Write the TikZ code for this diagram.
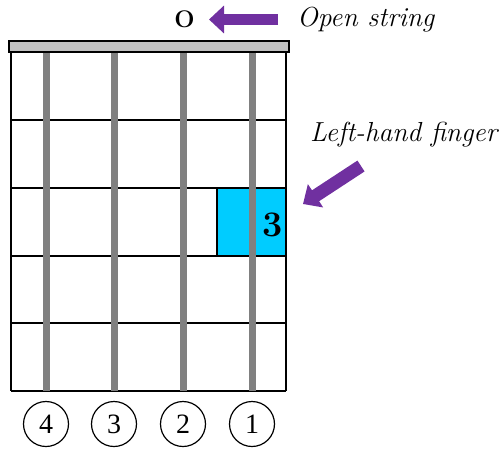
\documentclass[tikz,border=0pt]{standalone}
\usepackage{fontspec}
\newfontfamily\circlefont{Liberation Serif}
\usepackage{xcolor}
\usetikzlibrary{arrows.meta, positioning, calc}

\definecolor{nutgray}{HTML}{C0C0C0}
\definecolor{stringgray}{HTML}{808080}
\definecolor{fingerblue}{HTML}{00CCFF}
\definecolor{arrowpurple}{HTML}{7030A0}

\begin{document}
\begin{tikzpicture}[x=1pt, y=-1pt,
        fret/.style={line width=2pt},
        guitarstring/.style={line width=7pt, stringgray},
        pointer/.style={line width=12pt, arrowpurple, -{Triangle[length=15pt, width=27pt]}},
        annot/.style={inner sep=0pt, font=\fontsize{27.5}{32}\selectfont\itshape},
        stringno/.style={circle, draw, line width=1.2pt, minimum size=45pt, inner sep=0pt,
            font=\circlefont\fontsize{28}{32}\selectfont}]

        \useasboundingbox (0,0) rectangle (504,448);

        % Frets and edges
        \foreach \y in {120, 188, 256, 323, 391} {
            \draw[fret] (11,\y) -- (286,\y);
        }
        \draw[fret] (11,52) -- (11,391);
        \draw[fret] (286,52) -- (286,391);

        % Fingered fret
        \draw[fret, fill=fingerblue] (217,188) rectangle (286,256);

        % Strings with their numbers
        \foreach \x/\n in {46/4, 114/3, 183/2, 252/1} {
            \draw[guitarstring] (\x,52) -- (\x,391);
            \node[stringno] (num\n) at (\x,424) {\n};
        }

        % Nut
        \draw[line width=1.5pt, fill=nutgray] (9,41) rectangle (289,52);

        % Finger number
        \node[font=\bfseries\fontsize{36}{40}\selectfont] (finger) at (272.5,224.5) {3};

        % Open string mark
        \node[font=\bfseries\fontsize{24}{28}\selectfont] (open) at (184.5,19.5) {O};
        \coordinate (opentail) at (278,19.5);
        \coordinate (opentip) at (209,19.5);
        \draw[pointer, line width=11pt] (opentail) -- (opentip);
        \node[annot, anchor=base west] (openlbl) at (297,26) {Open string};

        % Finger pointer
        \node[annot, anchor=base west] (fingerlbl) at (310,141) {Left-hand finger};
        \coordinate (fingertail) at (361,166);
        \coordinate (fingertip) at (303,204);
        \draw[pointer, line width=13pt] (fingertail) -- (fingertip);

    \end{tikzpicture}
\end{document}
